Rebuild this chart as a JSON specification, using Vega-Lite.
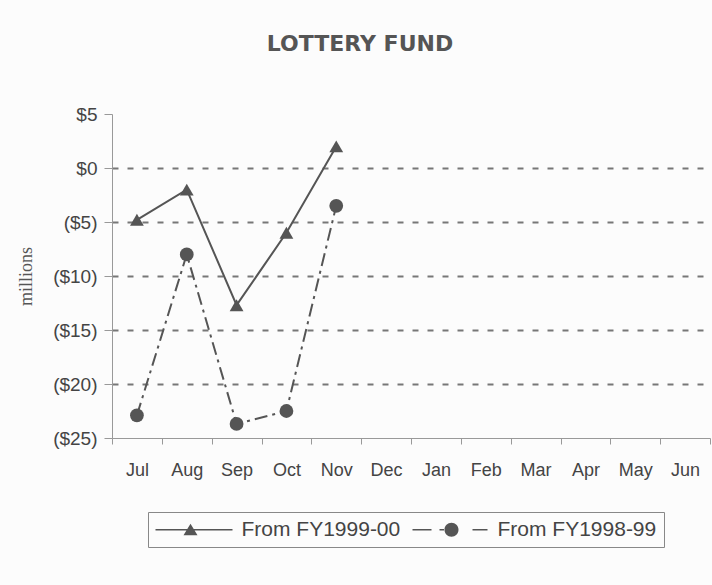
{
  "$schema": "https://vega.github.io/schema/vega-lite/v6.json",
  "width": 598,
  "height": 324,
  "autosize": "none",
  "padding": {"left": 112, "top": 114, "right": 2, "bottom": 147},
  "background": "#fcfcfc",
  "config": {"view": {"stroke": null}, "font": "Liberation Sans"},
  "title": {"text": "LOTTERY FUND", "fontSize": 22, "fontWeight": "bold", "color": "#555", "dx": -51, "offset": 49, "font": "DejaVu Sans"},
  "data": {"values": [
    {"month": "Jul", "series": "From FY1999-00", "value": -4.8},
    {"month": "Aug", "series": "From FY1999-00", "value": -2.0},
    {"month": "Sep", "series": "From FY1999-00", "value": -12.7},
    {"month": "Oct", "series": "From FY1999-00", "value": -6.0},
    {"month": "Nov", "series": "From FY1999-00", "value": 2.0},
    {"month": "Jul", "series": "From FY1998-99", "value": -22.9},
    {"month": "Aug", "series": "From FY1998-99", "value": -8.0},
    {"month": "Sep", "series": "From FY1998-99", "value": -23.7},
    {"month": "Oct", "series": "From FY1998-99", "value": -22.5},
    {"month": "Nov", "series": "From FY1998-99", "value": -3.5}
  ]},
  "encoding": {
    "x": {"field": "month", "type": "ordinal",
      "sort": ["Jul","Aug","Sep","Oct","Nov","Dec","Jan","Feb","Mar","Apr","May","Jun"],
      "scale": {"type": "band", "domain": ["Jul","Aug","Sep","Oct","Nov","Dec","Jan","Feb","Mar","Apr","May","Jun"], "paddingInner": 0, "paddingOuter": 0},
      "axis": {"title": null, "labelAngle": 0, "labelFontSize": 18, "labelColor": "#444", "labelPadding": 17, "tickBand": "extent", "tickSize": 6, "tickColor": "#999", "domainColor": "#999", "grid": false}},
    "y": {"field": "value", "type": "quantitative",
      "scale": {"domain": [-25, 5], "nice": false, "zero": false},
      "axis": {"title": "millions", "titleFont": "Liberation Serif", "titleFontWeight": "normal", "titleFontSize": 18, "titleColor": "#555", "titlePadding": 17,
        "values": [5, 0, -5, -10, -15, -20, -25],
        "labelExpr": "datum.value < 0 ? '($' + abs(datum.value) + ')' : '$' + datum.value",
        "labelFontSize": 19, "labelColor": "#444", "labelPadding": 7, "tickSize": 8, "tickColor": "#999", "domainColor": "#999",
        "grid": true, "gridDash": [6, 9], "gridColor": "#777", "gridWidth": 2,
        "gridOpacity": {"condition": {"test": "datum.value == 5 || datum.value == -25", "value": 0}, "value": 1}}}
  },
  "layer": [
    {
      "transform": [{"filter": "datum.series == 'From FY1999-00'"}],
      "mark": {"type": "line", "color": "#555", "strokeWidth": 2}
    },
    {
      "transform": [{"filter": "datum.series == 'From FY1998-99'"}],
      "mark": {"type": "line", "color": "#555", "strokeWidth": 2, "strokeDash": [13, 5, 3, 5]}
    },
    {
      "transform": [{"filter": "datum.series == 'From FY1999-00'"}],
      "mark": {"type": "point", "filled": true, "opacity": 1, "color": "#555", "size": 190, "shape": "triangle-up"}
    },
    {
      "transform": [{"filter": "datum.series == 'From FY1998-99'"}],
      "mark": {"type": "point", "filled": true, "opacity": 1, "color": "#555", "size": 190, "shape": "circle"}
    },
    {
      "transform": [{"filter": "datum.value > 100"}],
      "mark": {"type": "point", "filled": true, "opacity": 1, "color": "#555"},
      "encoding": {
        "shape": {"field": "series", "type": "nominal",
          "scale": {"domain": ["From FY1999-00", "From FY1998-99"], "range": [
            "M-3.85,-0.08 L3.85,-0.08 L3.85,0.08 L-3.85,0.08 Z M-1.05,0.55 L-0.35,-0.6 L0.35,0.55 Z",
            "M-3.75,-0.08 L-1.85,-0.08 L-1.85,0.08 L-3.75,0.08 Z M-1.05,-0.08 L-0.6,-0.08 L-0.6,0.08 L-1.05,0.08 Z M0.85,0 A0.7,0.7 0 1,1 -0.55,0 A0.7,0.7 0 1,1 0.85,0 Z M2.25,-0.08 L3.75,-0.08 L3.75,0.08 L2.25,0.08 Z"
          ]},
          "legend": {"title": null, "orient": "none", "legendX": 36, "legendY": 398, "direction": "horizontal",
            "strokeColor": "#888", "padding": 7, "labelFontSize": 21, "labelColor": "#444",
            "symbolSize": 400, "symbolOffset": 28.5, "labelOffset": 37, "columnPadding": 10,
            "symbolFillColor": "#555", "symbolStrokeWidth": 0, "symbolOpacity": 1}
        }
      }
    }
  ]
}
